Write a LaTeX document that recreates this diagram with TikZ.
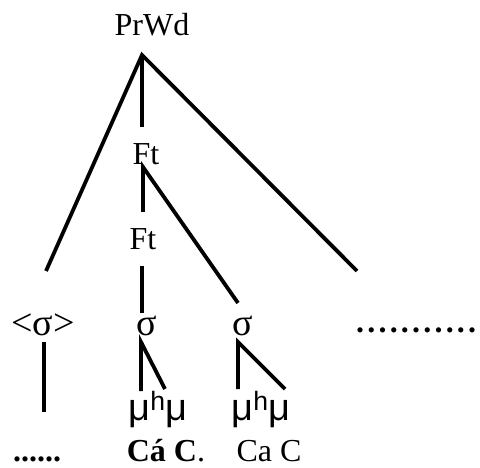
\documentclass[tikz,border=0pt]{standalone}
\usepackage{fontspec}
\setmainfont{Liberation Serif}
\newfontfamily\mufont{Liberation Sans}
\newcommand{\dotk}{\textbf{.}\kern3.2pt}
\begin{document}
\begin{tikzpicture}[x=1pt,y=-1pt,
  edge/.style={line width=3.8pt},
  lab/.style={anchor=base,inner sep=0pt,font=\fontsize{32}{36}\selectfont},
  siglab/.style={anchor=base,inner sep=0pt,font=\fontsize{38}{40}\selectfont},
  mulab/.style={anchor=base,inner sep=0pt,font=\mufont\fontsize{38}{40}\selectfont}]
\useasboundingbox (0,0) rectangle (480,468);
% labels
\node[lab] (prwd) at (152,36) {PrWd};
\node[lab] (ft1) at (146,165) {Ft};
\node[lab] (ft2) at (143,250) {Ft};
\node[siglab] (s0) at (43,335) {<σ>};
\node[siglab] (s1) at (147,335) {σ};
\node[siglab] (s2) at (243,335) {σ};
\node[lab,anchor=base west] (dr) at (356,333) {\dotk\dotk\dotk\dotk\dotk\dotk\dotk\dotk\dotk\dotk\textbf{.}};
\node[mulab] (m1) at (158,420) {μ\textsuperscript{h}μ};
\node[mulab] (m2) at (261,420) {μ\textsuperscript{h}μ};
\node[lab] (d0) at (37,461) {\textbf{......}};
\node[lab] (w1) at (166,461) {\textbf{Cá C}.};
\node[lab] (w2) at (269,461) {Ca C};
% connector points
\coordinate (apex) at (142,55);
\coordinate (lft) at (46,271);
\coordinate (rgt) at (357,271);
\coordinate (a1) at (142,127);
\coordinate (f1) at (143,167);
\coordinate (f1b) at (143,212);
\coordinate (f1r) at (238,303);
\coordinate (f2) at (142,266);
\coordinate (f2b) at (142,313);
\coordinate (s0t) at (44,342);
\coordinate (s0b) at (44,412);
\coordinate (s1t) at (141,342);
\coordinate (s1b) at (141,391);
\coordinate (s1r) at (165,389);
\coordinate (s2t) at (238,342);
\coordinate (s2b) at (238,389);
\coordinate (s2r) at (285,389);
% edges
\draw[edge] (lft) -- (apex) -- (rgt);
\draw[edge] (apex) -- (a1);
\draw[edge] (f1b) -- (f1) -- (f1r);
\draw[edge] (f2) -- (f2b);
\draw[edge] (s0t) -- (s0b);
\draw[edge] (s1b) -- (s1t) -- (s1r);
\draw[edge] (s2b) -- (s2t) -- (s2r);
\end{tikzpicture}
\end{document}
